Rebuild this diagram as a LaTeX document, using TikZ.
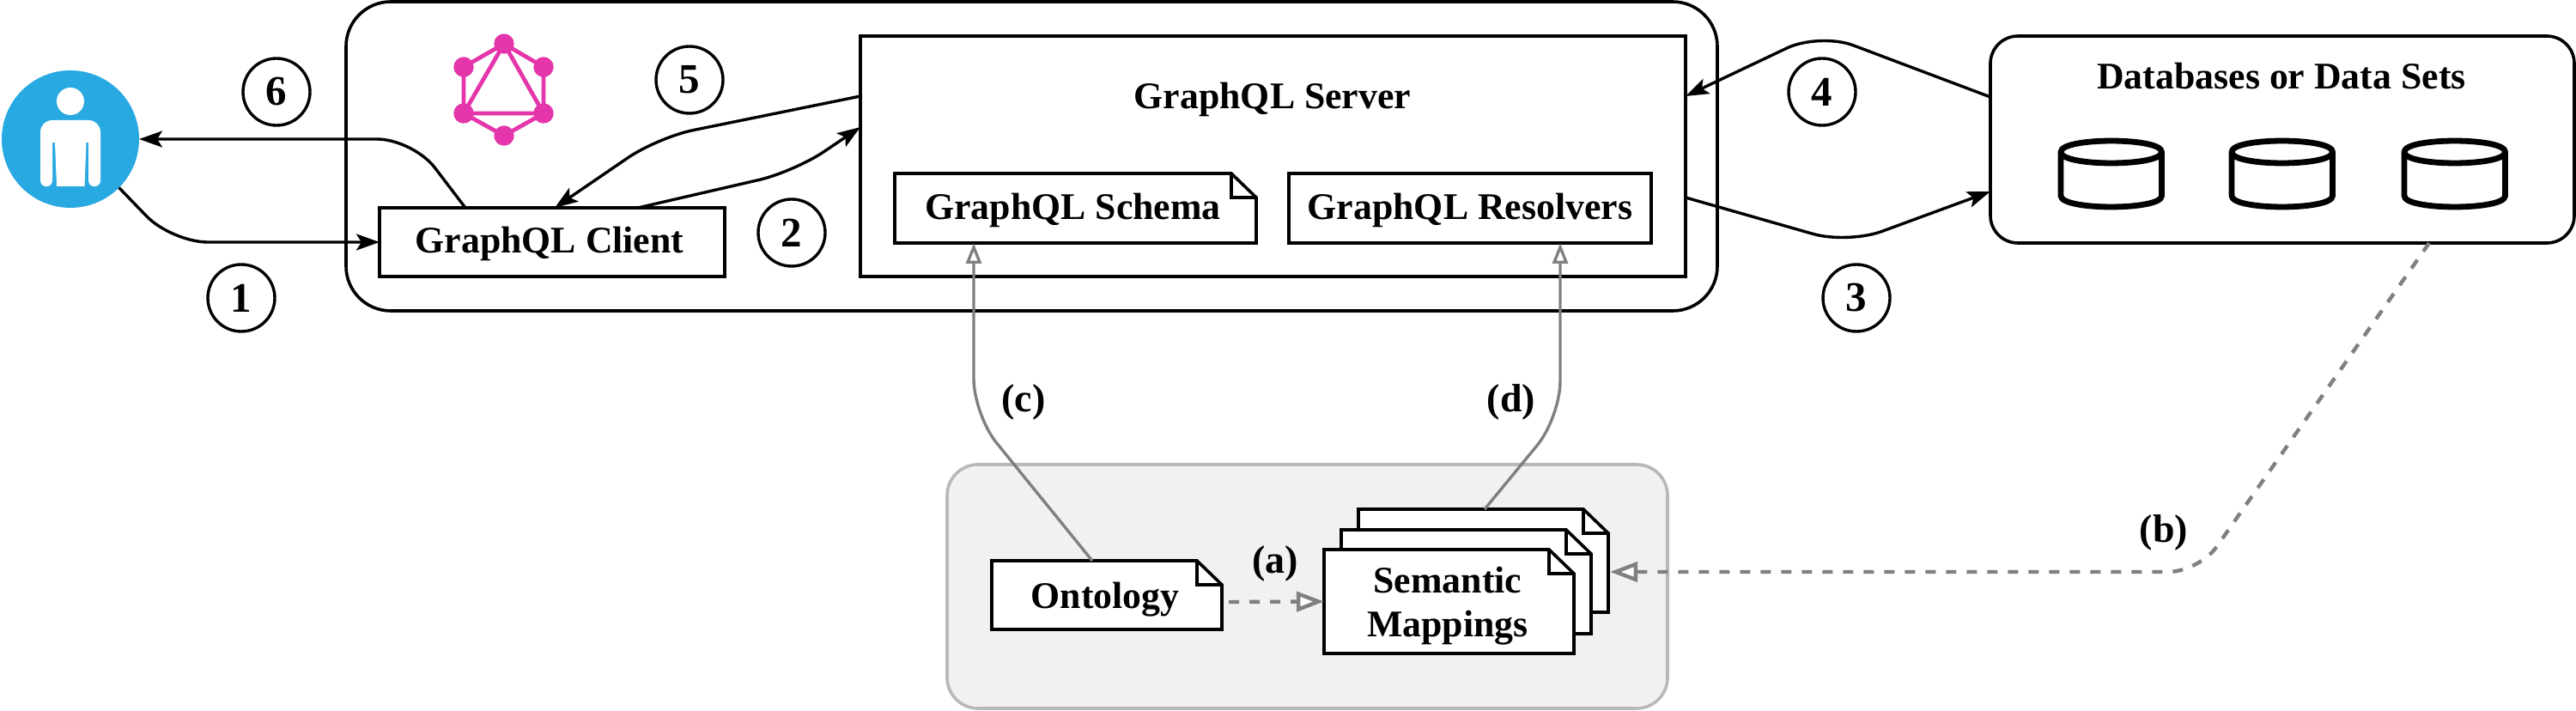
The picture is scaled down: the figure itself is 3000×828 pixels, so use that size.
\documentclass[tikz,border=0pt]{standalone}
\usepackage{fontspec}
\setmainfont{Liberation Serif}
\usetikzlibrary{arrows.meta,calc}
\definecolor{userblue}{HTML}{29A9E1}
\definecolor{gqlpink}{HTML}{E535AB}
\definecolor{linkgray}{HTML}{808080}
\definecolor{panelfill}{HTML}{F1F1F1}
\definecolor{panelline}{HTML}{B8B8B8}
\tikzset{
  lbl/.style={font=\bfseries\fontsize{21.9}{26}\selectfont,inner sep=0pt,outer sep=0pt},
  sq/.style={draw=black,line width=1.8pt,fill=white,inner sep=0pt,outer sep=0pt,lbl},
  rnd/.style={draw=black,line width=1.8pt,fill=white,inner sep=0pt,outer sep=0pt},
  num/.style={circle,draw=black,line width=1.7pt,fill=white,minimum size=39pt,inner sep=0pt,outer sep=0pt,font=\bfseries\fontsize{24.5}{26}\selectfont},
  tag/.style={anchor=base,inner sep=0pt,outer sep=0pt,font=\bfseries\fontsize{23}{26}\selectfont},
  flow/.style={draw=black,line width=1.7pt,rounded corners=21pt,-{Stealth[length=13.5pt,width=9.5pt,inset=3pt]}},
  trace/.style={draw=linkgray,line width=1.7pt,rounded corners=21pt,-{Triangle[open,fill=white,length=12pt,width=9pt]}},
  tracedash/.style={draw=linkgray,line width=2.2pt,rounded corners=18pt,dash pattern=on 6pt off 6pt,-{Triangle[open,fill=white,length=16pt,width=11.5pt]}},
  gqldot/.style={circle,fill=gqlpink,minimum size=11.7pt,inner sep=0pt,outer sep=0pt},
  gqlbar/.style={draw=gqlpink,line width=2.4pt},
  can/.style={draw=black,line width=3.4pt,fill=white,line join=round},
}
% name, x1, y1, x2, y2, node options, text
\newcommand{\docnode}[7]{%
  \pgfmathsetmacro{\dfx}{#4-29}\pgfmathsetmacro{\dfy}{#3+28}%
  \pgfmathsetmacro{\dcx}{(#2+#4)/2}\pgfmathsetmacro{\dcy}{(#3+#5)/2}%
  \pgfmathsetmacro{\dwide}{(#4-#2)/2}\pgfmathsetmacro{\dtall}{(#5-#3)/2}%
  \draw[draw=black,line width=1.8pt,fill=white,line join=miter]
    (#2,#3) -- (\dfx,#3) -- (#4,\dfy) -- (#4,#5) -- (#2,#5) -- cycle;
  \draw[draw=black,line width=1.8pt,line join=miter] (\dfx,#3) -- (\dfx,\dfy) -- (#4,\dfy);
  \node[lbl,minimum width=\dwide pt,minimum height=\dtall pt,#6] (#1) at (\dcx,\dcy) {#7};%
}
\newcommand{\canister}[1]{%
  \pgfmathsetmacro{\xa}{#1}\pgfmathsetmacro{\xb}{#1+117.5}%
  \draw[can] (\xa,177) .. controls (\xa,159.7) and (\xb,159.7) .. (\xb,177)
    -- (\xb,228) .. controls (\xb,245.3) and (\xa,245.3) .. (\xa,228) -- cycle;
  \draw[can] (\xa,177) .. controls (\xa,194.3) and (\xb,194.3) .. (\xb,177);%
}
\begin{document}
\begin{tikzpicture}[x=0.5pt,y=-0.5pt]
\useasboundingbox (0,0) rectangle (3000,828);

% panels
\node[draw=panelline,fill=panelfill,line width=1.8pt,rounded corners=18pt,minimum width=419.5pt,minimum height=142pt,inner sep=0pt,outer sep=0pt] (panel) at (1522.5,683) {};
\node[rnd,rounded corners=26pt,minimum width=798.5pt,minimum height=180pt] (platform) at (1201.5,182) {};

% user
\node[circle,fill=userblue,minimum size=80pt,inner sep=0pt,outer sep=0pt] (user) at (82,162) {};
\fill[white] (82,118) circle[radius=16];
\fill[white] (47,154) .. controls (47,146) and (53,140) .. (61,140) -- (103,140)
  .. controls (111,140) and (117,146) .. (117,154) -- (117,210)
  .. controls (117,219.5) and (103,219.5) .. (103,210) -- (103,166) -- (100.5,166) -- (98.5,217)
  -- (66,217) -- (64,166) -- (61,166) -- (61,210)
  .. controls (61,219.5) and (47,219.5) .. (47,210) -- cycle;

% GraphQL logo
\node[gqldot] (g1) at (587,51) {};
\node[gqldot] (g2) at (633,78) {};
\node[gqldot] (g3) at (633,132) {};
\node[gqldot] (g4) at (587,158) {};
\node[gqldot] (g5) at (540,132) {};
\node[gqldot] (g6) at (540,78) {};
\draw[gqlbar] (g1.center) -- (g2.center) -- (g3.center) -- (g4.center) -- (g5.center) -- (g6.center) -- cycle;
\draw[gqlbar] (g1.center) -- (g3.center) -- (g5.center) -- cycle;

% boxes
\node[sq,minimum width=201pt,minimum height=40pt,text height=15pt,text depth=2pt] (client) at (643,282) {\hspace{-3pt}GraphQL Client};
\node[sq,minimum width=480.5pt,minimum height=140pt] (server) at (1482.5,182) {};
\node[lbl,anchor=base] (servertitle) at (1482,127) {GraphQL Server};
\docnode{schema}{1042}{202}{1463}{283}{text height=15pt,text depth=2pt}{\hspace{-3pt}GraphQL Schema}
\node[sq,minimum width=211pt,minimum height=40.5pt,text height=15pt,text depth=2pt] (resolvers) at (1712,242.5) {GraphQL Resolvers};
\node[rnd,rounded corners=16pt,minimum width=340pt,minimum height=120.5pt] (data) at (2658,162.5) {};
\node[lbl,anchor=base] (datatitle) at (2657,104) {Databases or Data Sets};
\canister{2400}
\canister{2599}
\canister{2800}

% documents in the panel
\docnode{ontology}{1155}{653}{1423}{733}{text height=16pt,text depth=1pt}{\hspace{-2pt}Ontology}
\docnode{back}{1582}{593}{1873}{713}{}{}
\docnode{mid}{1562}{617}{1853}{738}{}{}
\docnode{front}{1542}{640}{1833}{761}{}{}
\node[lbl,align=center,font=\bfseries\fontsize{21.9}{25.5}\selectfont] (semantic) at (1686,706) {Semantic\\Mappings};

% black connectors
\coordinate (w1) at (200,282);
\coordinate (w6) at (481,162);
\coordinate (w5) at (766,160);
\coordinate (w2) at (925,200);
\coordinate (w4) at (2119,38);
\coordinate (w3) at (2152,284);
\draw[flow] (user.-45) -- (w1) -- (client.west);
\draw[flow] ($(client.north west)+(100,0)$) -- (w6) -- (user.east);
\draw[flow] ($(server.north west)+(0,70)$) -- (w5) -- ($(client.north west)+(204,0)$);
\draw[flow] ($(client.north west)+(301,0)$) -- (w2) -- ($(server.north west)+(0,106)$);
\draw[flow] ($(data.north west)+(0,71)$) -- (w4) -- ($(server.north east)+(0,70)$);
\draw[flow] ($(server.north east)+(0,188)$) -- (w3) -- ($(data.north west)+(0,181)$);

% grey connectors
\coordinate (wc) at (1134,483);
\coordinate (wd) at (1817,486);
\coordinate (wb) at (2561,666);
\draw[trace] ($(ontology.north west)+(117,0)$) -- (wc) -- ($(schema.south west)+(92,0)$);
\draw[trace] ($(back.north west)+(147,0)$) -- (wd) -- ($(resolvers.south west)+(316,0)$);
\draw[tracedash] ($(ontology.south east)+(8,-32)$) -- (front.west);
\draw[tracedash] ($(data.south west)+(511,0)$) -- (wb) -- ($(back.south east)+(2,-47)$);

% numbers
\node[num] (n6) at (322,107) {6};
\node[num] (n1) at (281,347) {1};
\node[num] (n5) at (803,93) {5};
\node[num] (n2) at (922,271) {2};
\node[num] (n4) at (2122,107) {4};
\node[num] (n3) at (2162,347) {3};

% letters
\node[tag] (la) at (1485,668) {(a)};
\node[tag] (lb) at (2520,632) {(b)};
\node[tag] (lc) at (1192,480) {(c)};
\node[tag] (ld) at (1760,480) {(d)};
\end{tikzpicture}
\end{document}
